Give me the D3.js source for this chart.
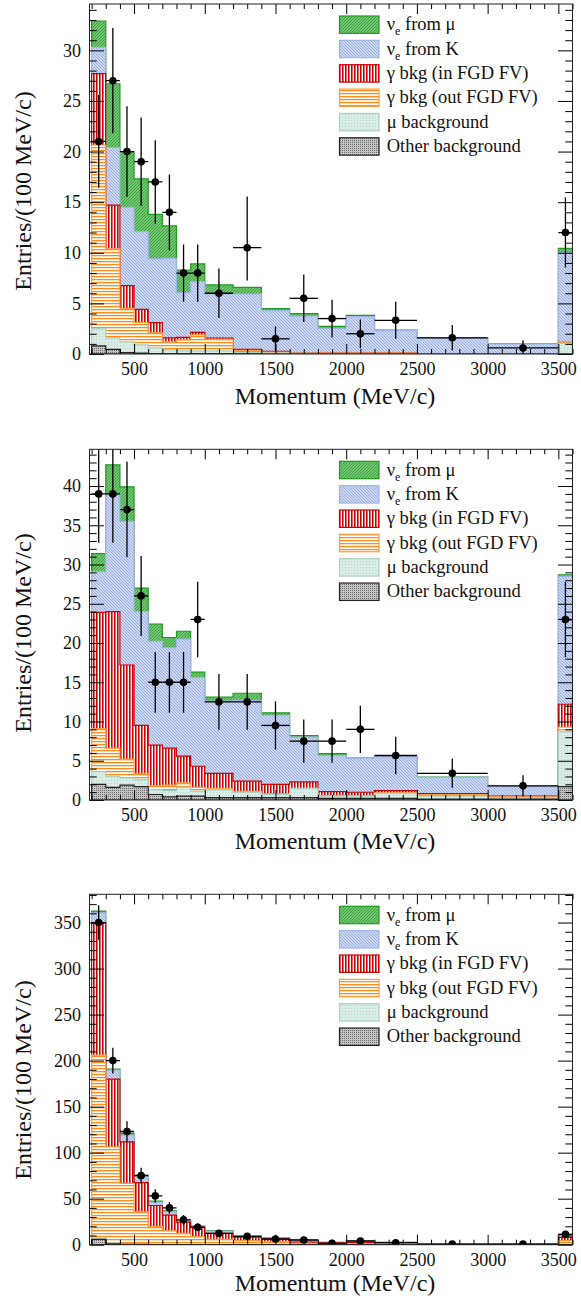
<!DOCTYPE html>
<html><head><meta charset="utf-8">
<script src="https://cdn.jsdelivr.net/npm/d3@7"></script>
<style>
body{margin:0;background:#fff}
svg{display:block}
</style>
</head><body>
<svg id="c" width="581" height="1302"></svg>
<script>
// ---------------- DATA ----------------
const binEdges = [200,300,400,500,600,700,800,900,1000,1200,1400,1600,1800,2000,2200,2500,3000,3500,3600];
const xMajorTicks = [500,1000,1500,2000,2500,3000,3500];
const seriesKeys = ["other","muBkg","gammaOut","gammaIn","nueK","nueMu"]; // stacking order, bottom -> top
const legendKeys = ["nueMu","nueK","gammaIn","gammaOut","muBkg","other"];
const legendLabels = ["ν_e from μ","ν_e from K","γ bkg (in FGD FV)","γ bkg (out FGD FV)","μ background","Other background"];
const xTitle = "Momentum (MeV/c)";
const yTitle = "Entries/(100 MeV/c)";

// Panel 1
const p1Other    = [0.8,0.45,0.15,0.1,0.05,0.05,0.05,0.05,0.03,0.02,0,0,0,0,0,0,0,0];
const p1MuBkg    = [1.7,1.15,1.05,0.8,0.55,0.35,0.25,0.25,0.27,0.13,0.1,0.1,0.05,0.05,0.05,0.05,0.05,1.05];
const p1GammaOut = [18.15,8.8,3.3,2.2,1.5,0.8,1.1,1.58,1.15,0.2,0.1,0,0.03,0.05,0.05,0,0,0.17];
const p1GammaIn  = [7.05,4.3,2.25,1.3,1.0,0.4,0.25,0.26,0.13,0.1,0.05,0.05,0.02,0,0,0,0,0];
const p1NueK     = [2.6,5.7,7.75,7.7,6.3,7.85,4.41,5.01,4.35,5.48,4.03,3.6,2.43,3.59,2.23,1.52,0.94,8.78];
const p1NueMu    = [2.6,6.3,5.5,5.2,4.4,3.2,2.24,1.75,0.89,0.66,0.2,0.23,0.2,0.13,0.04,0.03,0.01,0.44];
const p1Data     = [21,27,20,19,17,14,8,8,6,10.5,1.5,5.5,3.5,2,3.33,1.6,0.6,12];
const p1ErrLo    = [4.58,5.2,4.47,4.36,4.12,3.74,2.83,2.83,2.45,3.24,1.22,2.35,1.87,1.41,1.83,1.26,0.77,3.46];
const p1ErrHi    = [4.58,5.2,4.47,4.36,4.12,3.74,2.83,2.83,2.45,5.05,1.22,2.35,1.87,1.41,1.83,1.26,0.77,3.46];

// Panel 2
const p2Other    = [2.0,1.6,1.9,1.7,0.7,0.4,0.5,0.5,0.3,0.3,0.3,0.3,0.2,0.2,0.2,0.1,0.1,1.7];
const p2MuBkg    = [1.6,1.4,0.9,0.9,0.6,0.8,1.1,0.6,1.0,0.7,0.4,1.2,0.3,0.3,0.65,0.4,0.2,7.0];
const p2GammaOut = [5.5,3.6,2.4,0.8,0.5,0.7,0.6,0.5,0.2,0.1,0.1,0,0.05,0.05,0.05,0.2,0.1,0.6];
const p2GammaIn  = [14.8,17.4,12.0,6.1,5.2,4.7,3.4,2.7,1.9,1.3,1.2,0.8,0.51,0.44,0.29,0.1,0.1,2.9];
const p2NueK     = [5.2,14.85,18.3,14.5,13.2,12.8,14.9,11.3,9.2,10.3,8.8,5.7,4.59,4.31,4.33,2.1,1.2,16.3];
const p2NueMu    = [2.3,3.85,4.4,3.0,2.2,1.3,1.0,0.7,0.5,0.9,0.3,0.2,0.25,0.05,0.04,0.02,0.05,0.2];
const p2Data     = [39,39,37,26,15,15,15,23,12.5,12.5,9.5,7.5,7.5,9,5.67,3.4,1.8,23];
const p2Err      = [6.24,6.24,6.08,5.1,3.87,3.87,3.87,4.8,3.54,3.54,3.08,2.74,2.74,3.0,2.38,1.84,1.34,4.8];

// Panel 3
const p3Other    = [5.8,1.0,0.5,0.3,0.2,0.2,0.1,0.1,0.1,0.05,0.05,0,0,0,0,0,0,0.1];
const p3MuBkg    = [1.2,1.0,0.5,0.3,0.2,0.1,0.1,0.1,0.05,0.05,0.05,0.05,0.05,0.05,0.05,0,0,0.2];
const p3GammaOut = [198.9,104.4,65.6,35.2,19.6,14.9,12.1,8.5,5.65,4.3,3.2,1.55,0.95,1.15,0.85,0.3,0.3,4.1];
const p3GammaIn  = [143.7,73.5,45.2,31.7,22.6,17.0,12.3,10.2,6.5,3.9,2.9,1.2,1.0,1.0,1.1,0.1,0.1,3.6];
const p3NueK     = [10.9,9.7,7.3,7.1,3.7,3.6,1.5,1.0,2.6,1.3,1.2,2.1,0.5,1.7,0.5,0.2,0.2,2.9];
const p3NueMu    = [2.0,1.1,1.8,1.0,1.1,1.1,0.7,0.4,0.3,0.2,0.2,0.2,0.1,0.1,0.1,0.1,0.1,0.3];
const p3Data     = [350,200,123,75,53,40,27,19,12.3,9.1,6.2,5.1,1.5,4.0,2.2,0.6,0.6,11.2];
const p3Err      = [18.7,14.1,11.1,8.7,7.3,6.3,5.2,4.4,3.5,3.0,2.5,2.3,1.2,2.0,1.5,0.8,0.8,3.3];

// ---------------- LAYOUT / STYLE ----------------
const FONT = "'Liberation Serif','Times New Roman',Times,'Nimbus Roman','DejaVu Serif',serif";
const frameL = 89.5, frameR = 572.5;
const panels = [
  {top:4,     bottom:354,    ymax:34.58, major:5,  minor:1,
   s:{other:p1Other,muBkg:p1MuBkg,gammaOut:p1GammaOut,gammaIn:p1GammaIn,nueK:p1NueK,nueMu:p1NueMu},
   data:p1Data, lo:p1ErrLo, hi:p1ErrHi, xTitleDy:50, yTitleY:191},
  {top:449.3, bottom:800,    ymax:44.68, major:5,  minor:1,
   s:{other:p2Other,muBkg:p2MuBkg,gammaOut:p2GammaOut,gammaIn:p2GammaIn,nueK:p2NueK,nueMu:p2NueMu},
   data:p2Data, lo:p2Err, hi:p2Err, xTitleDy:49, yTitleY:633},
  {top:894.3, bottom:1244.7, ymax:380.7, major:50, minor:10,
   s:{other:p3Other,muBkg:p3MuBkg,gammaOut:p3GammaOut,gammaIn:p3GammaIn,nueK:p3NueK,nueMu:p3NueMu},
   data:p3Data, lo:p3Err, hi:p3Err, xTitleDy:46, yTitleY:1080}
];

const style = {
  nueMu:   {fill:"url(#pNueMu)",   line:"#1e9c1e"},
  nueK:    {fill:"url(#pNueK)",    line:"#9fb4e6"},
  gammaIn: {fill:"url(#pGammaIn)", line:"#cc0000"},
  gammaOut:{fill:"url(#pGammaOut)",line:"#ff9a3c"},
  muBkg:   {fill:"url(#pMuBkg)",   line:"#a9d0c3"},
  other:   {fill:"url(#pOther)",   line:"#222"}
};

const svg = d3.select("#c").style("font-family",FONT);
const defs = svg.append("defs");
function pattern(id, w, h, draw){
  const p = defs.append("pattern").attr("id",id).attr("patternUnits","userSpaceOnUse")
    .attr("width",w).attr("height",h);
  draw(p);
}
pattern("pNueMu",3,3,p=>{
  p.append("rect").attr("width",3).attr("height",3).attr("fill","#8fd48f");
  p.append("path").attr("d","M0,3L3,0M-1,1L1,-1M2,4L4,2").attr("stroke","#33a033").attr("stroke-width",1.1);
});
pattern("pNueK",3,3,p=>{
  p.append("rect").attr("width",3).attr("height",3).attr("fill","#cdd8f3");
  p.append("path").attr("d","M0,0L3,3M-1,2L1,4M2,-1L4,1").attr("stroke","#97abe0").attr("stroke-width",1);
});
pattern("pGammaIn",3,3,p=>{
  p.append("rect").attr("width",3).attr("height",3).attr("fill","#fff");
  p.append("rect").attr("width",1.6).attr("height",3).attr("fill","#d00000");
});
pattern("pGammaOut",3,3,p=>{
  p.append("rect").attr("width",3).attr("height",3).attr("fill","#fff");
  p.append("rect").attr("width",3).attr("height",1.3).attr("fill","#ff8c1a");
});
pattern("pMuBkg",3,3,p=>{
  p.append("rect").attr("width",3).attr("height",3).attr("fill","#d9ece5");
  p.append("rect").attr("width",1).attr("height",1).attr("fill","#b3d5c8");
});
pattern("pOther",2,2,p=>{
  p.append("rect").attr("width",2).attr("height",2).attr("fill","#c4c4c4");
  p.append("rect").attr("width",1).attr("height",1).attr("fill","#6a6a6a");
});

const x = d3.scaleLinear().domain([185,3600]).range([frameL,frameR]);
const xMinorTicks = d3.range(200,3601,100).filter(v=>!xMajorTicks.includes(v));

panels.forEach((P,pi)=>{
  const y = d3.scaleLinear().domain([0,P.ymax]).range([P.bottom,P.top]);
  const g = svg.append("g");
  const clipId = "clip"+pi;
  defs.append("clipPath").attr("id",clipId).append("rect")
    .attr("x",frameL).attr("y",P.top).attr("width",frameR-frameL).attr("height",P.bottom-P.top);
  const plot = g.append("g").attr("clip-path",`url(#${clipId})`);

  const rows = binEdges.slice(0,-1).map((lo,i)=>{
    const r = {lo, hi:binEdges[i+1]};
    seriesKeys.forEach(k=>r[k]=P.s[k][i]);
    return r;
  });
  const stacked = d3.stack().keys(seriesKeys)(rows);
  const line = d3.line();
  // THStack style: draw cumulative histograms from the top layer down
  for(let k=stacked.length-1;k>=0;k--){
    const layer = stacked[k];
    const pts = [[x(binEdges[0]),y(0)]];
    layer.forEach(d=>{ pts.push([x(d.data.lo),y(d[1])]); pts.push([x(d.data.hi),y(d[1])]); });
    pts.push([x(binEdges[binEdges.length-1]),y(0)]);
    const st = style[layer.key];
    plot.append("path").attr("d",line(pts)+"Z")
      .attr("fill",st.fill).attr("stroke",st.line).attr("stroke-width",1.2)
      .attr("stroke-linejoin","miter");
  }

  // data points with error bars
  const pts = rows.map((r,i)=>({lo:r.lo,hi:r.hi,c:(r.lo+r.hi)/2,v:P.data[i],el:P.lo[i],eh:P.hi[i]}));
  const eg = plot.append("g").attr("stroke","#000").attr("stroke-width",1.3);
  eg.selectAll(".ev").data(pts).join("line")
    .attr("x1",d=>x(d.c)).attr("x2",d=>x(d.c))
    .attr("y1",d=>y(Math.max(0,d.v-d.el))).attr("y2",d=>y(d.v+d.eh));
  eg.selectAll(".eh").data(pts).join("line")
    .attr("x1",d=>x(d.lo)).attr("x2",d=>x(d.hi))
    .attr("y1",d=>y(d.v)).attr("y2",d=>y(d.v));
  plot.append("g").selectAll("circle").data(pts).join("circle")
    .attr("cx",d=>x(d.c)).attr("cy",d=>y(d.v)).attr("r",3.8).attr("fill","#000");

  // axes
  const yMajor = d3.range(0,P.ymax,P.major);
  const yMinor = d3.range(0,P.ymax,P.minor).filter(v=>Math.abs(v/P.major-Math.round(v/P.major))>1e-6);
  const fontTick = 18;
  const ax = g.append("g").attr("class","axes");
  function styleAxis(sel){
    sel.attr("font-family",FONT).attr("font-size",fontTick);
    sel.select(".domain").remove();
    sel.selectAll("line").attr("stroke","#000");
    sel.selectAll("text").attr("fill","#111").style("font-family",FONT);
  }
  ax.append("g").attr("transform",`translate(${frameL},0)`)
    .call(d3.axisLeft(y).tickValues(yMajor).tickSize(-14.5).tickPadding(8.5).tickFormat(d3.format("d"))).call(styleAxis);
  ax.append("g").attr("transform",`translate(${frameL},0)`)
    .call(d3.axisLeft(y).tickValues(yMinor).tickSize(-7.2).tickFormat("")).call(styleAxis);
  ax.append("g").attr("transform",`translate(${frameR},0)`)
    .call(d3.axisRight(y).tickValues(yMajor).tickSize(-14.5).tickFormat("")).call(styleAxis);
  ax.append("g").attr("transform",`translate(${frameR},0)`)
    .call(d3.axisRight(y).tickValues(yMinor).tickSize(-7.2).tickFormat("")).call(styleAxis);
  ax.append("g").attr("transform",`translate(0,${P.bottom})`)
    .call(d3.axisBottom(x).tickValues(xMajorTicks).tickSize(-10).tickPadding(8.7).tickFormat(d3.format("d"))).call(styleAxis);
  ax.append("g").attr("transform",`translate(0,${P.bottom})`)
    .call(d3.axisBottom(x).tickValues(xMinorTicks).tickSize(-5).tickFormat("")).call(styleAxis);
  ax.append("g").attr("transform",`translate(0,${P.top})`)
    .call(d3.axisTop(x).tickValues(xMajorTicks).tickSize(-10).tickFormat("")).call(styleAxis);
  ax.append("g").attr("transform",`translate(0,${P.top})`)
    .call(d3.axisTop(x).tickValues(xMinorTicks).tickSize(-5).tickFormat("")).call(styleAxis);

  // frame
  g.append("rect").attr("x",frameL).attr("y",P.top).attr("width",frameR-frameL).attr("height",P.bottom-P.top)
    .attr("fill","none").attr("stroke","#222").attr("stroke-width",1);

  // titles
  g.append("text").attr("x",335).attr("y",P.bottom+P.xTitleDy).attr("text-anchor","middle")
    .style("font-family",FONT).attr("font-size",24).attr("fill","#111").text(xTitle);
  g.append("text").attr("transform",`translate(31,${P.yTitleY}) rotate(-90)`).attr("text-anchor","middle")
    .style("font-family",FONT).attr("font-size",24).attr("fill","#111").text(yTitle);

  // legend
  const lg = g.append("g");
  legendKeys.forEach((k,i)=>{
    const cy = P.top + 20.7 + i*24.35;
    lg.append("rect").attr("x",339.5).attr("y",cy-8.7).attr("width",39.5).attr("height",17.4)
      .attr("fill",style[k].fill).attr("stroke",style[k].line).attr("stroke-width",1.2);
    const t = lg.append("text").attr("x",386.7).attr("y",cy+5.5)
      .style("font-family",FONT).attr("font-size",18.5).attr("fill","#111");
    const lab = legendLabels[i];
    if(lab.includes("_")){
      const [a,rest] = lab.split("_");
      t.append("tspan").text(a);
      t.append("tspan").attr("font-size",12).attr("dy",5).text(rest[0]);
      t.append("tspan").attr("dy",-5).text(rest.slice(1));
    } else t.text(lab);
  });
});
</script>
</body></html>
